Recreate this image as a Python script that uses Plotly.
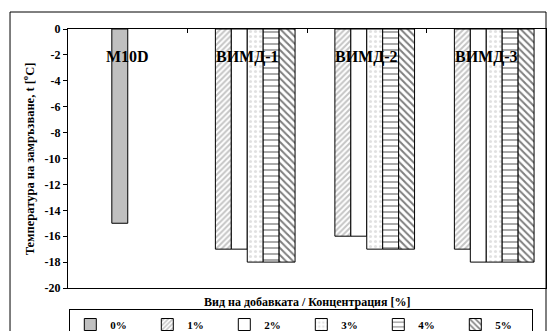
import plotly.graph_objects as go

# Freezing temperature by additive type and concentration
categories = ["M10D", "ВИМД-1", "ВИМД-2", "ВИМД-3"]
series_names = ["0%", "1%", "2%", "3%", "4%", "5%"]
values = {
    "0%": [-15, None, None, None],
    "1%": [None, -17, -16, -17],
    "2%": [None, -17, -16, -18],
    "3%": [None, -18, -17, -18],
    "4%": [None, -18, -17, -18],
    "5%": [None, -18, -17, -18],
}
y_ticks = list(range(-20, 1, 2))

# slot of each series inside a category group (6 slots, 150% gap)
slot_index = {"0%": 2, "1%": 1, "2%": 2, "3%": 3, "4%": 4, "5%": 5}
BAR_W = 1 / 7.5
GROUP_START = -3 * BAR_W

styles = {
    "0%": dict(color="#c0c0c0", pattern=dict(shape="")),
    "1%": dict(color="white", pattern=dict(shape="/", fgcolor="#8c8c8c", bgcolor="white",
                                           size=4, solidity=0.5, fillmode="overlay")),
    "2%": dict(color="white", pattern=dict(shape="")),
    "3%": dict(color="white", pattern=dict(shape=".", fgcolor="#c4c4c4", bgcolor="white",
                                           size=5, solidity=0.3, fillmode="overlay")),
    "4%": dict(color="white", pattern=dict(shape="-", fgcolor="black", bgcolor="white",
                                           size=6, solidity=0.22, fillmode="overlay")),
    "5%": dict(color="white", pattern=dict(shape="\\", fgcolor="black", bgcolor="white",
                                           size=5, solidity=0.4, fillmode="overlay")),
}

FONT = "Liberation Serif, Times New Roman, serif"

fig = go.Figure()
for name in series_names:
    st = styles[name]
    fig.add_trace(go.Bar(
        name=name,
        x=categories,
        y=values[name],
        width=BAR_W,
        offset=GROUP_START + slot_index[name] * BAR_W,
        marker=dict(color=st["color"], pattern=st["pattern"],
                    line=dict(color="black", width=1)),
    ))

# category labels drawn inside the plot under the zero line
for c in categories:
    fig.add_annotation(x=c, y=0.893, xref="x", yref="paper", text=c, showarrow=False,
                       font=dict(family=FONT, size=16, color="black", weight="bold"),
                       xanchor="center", yanchor="middle")

# axis titles
fig.add_annotation(x=0.5, y=-0.055, xref="paper", yref="paper",
                   text="Вид на добавката / Концентрация [%]", showarrow=False,
                   font=dict(family=FONT, size=12, color="black", weight="bold"),
                   xanchor="center", yanchor="middle")
fig.add_annotation(x=-0.084, y=0.5, xref="paper", yref="paper",
                   text="Температура на замръзване, t [<sup>o</sup>C]", showarrow=False,
                   textangle=-90,
                   font=dict(family=FONT, size=12.5, color="black", weight="bold"),
                   xanchor="center", yanchor="middle")

# chart area frame
fig.add_shape(type="rect", xref="paper", yref="paper",
              x0=-0.1213, x1=1.0, y0=-0.3, y1=1.0656,
              line=dict(color="black", width=1), fillcolor="rgba(0,0,0,0)")

fig.update_layout(
    width=550, height=331,
    margin=dict(l=68, r=4, t=29, b=43, autoexpand=False),
    paper_bgcolor="white", plot_bgcolor="white",
    barmode="overlay",
    font=dict(family=FONT, color="black"),
    showlegend=True,
    legend=dict(
        orientation="h", xref="container", yref="container",
        x=0.126, y=0.0664, xanchor="left", yanchor="top",
        entrywidth=32, entrywidthmode="pixels", itemwidth=30,
        bordercolor="black", borderwidth=1, bgcolor="white",
        font=dict(family=FONT, size=11, color="black", weight="bold"),
        traceorder="normal",
    ),
    xaxis=dict(
        type="category", categoryorder="array", categoryarray=categories,
        range=[-0.5, len(categories) - 0.5],
        side="top", showline=True, mirror=True, linecolor="black", linewidth=1,
        ticks="inside", tickson="boundaries", ticklen=4, tickcolor="black",
        showticklabels=False, showgrid=False, zeroline=False,
    ),
    yaxis=dict(
        range=[-20, 0], tickvals=y_ticks, ticktext=[str(v) for v in y_ticks],
        showline=True, mirror=True, linecolor="black", linewidth=1,
        ticks="outside", ticklen=4, tickcolor="black",
        tickfont=dict(family=FONT, size=12, color="black", weight="bold"),
        showgrid=False, zeroline=False,
    ),
)

fig.write_html("out.html")
